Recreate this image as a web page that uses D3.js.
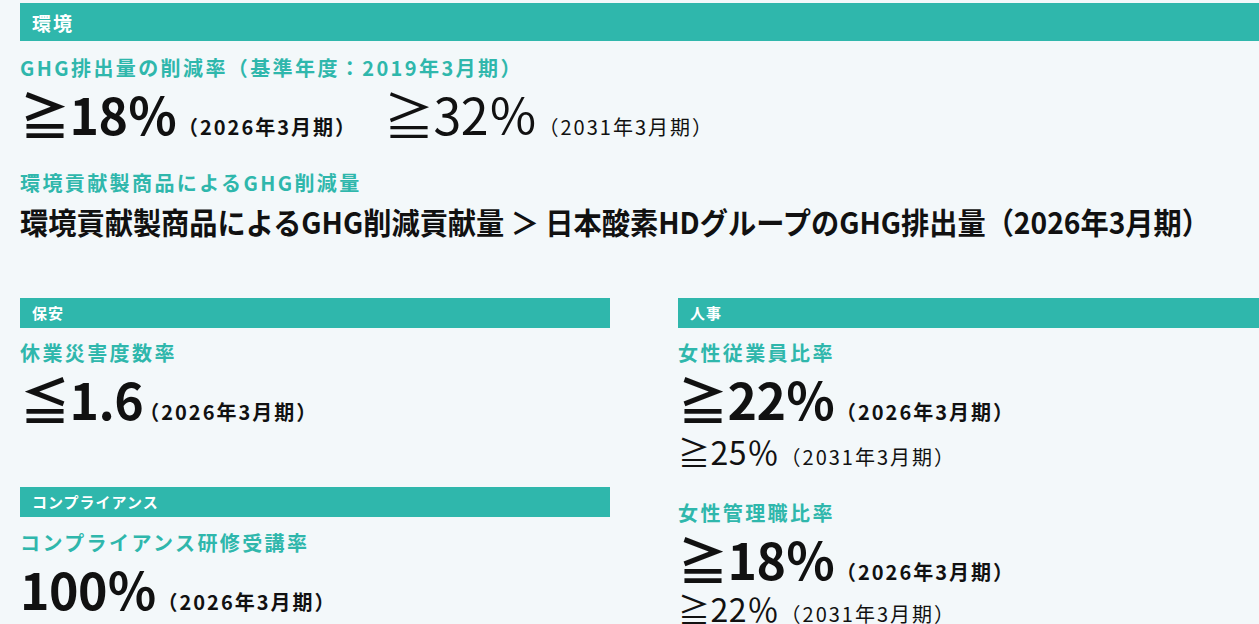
<!DOCTYPE html>
<html>
<head>
<meta charset="utf-8">
<script src="https://cdn.jsdelivr.net/npm/d3@7"></script>
<style>
  html, body { margin: 0; padding: 0; background: #f3f8fa; }
  svg { display: block; font-family: "Noto Sans CJK JP", "Noto Sans", sans-serif; }
</style>
</head>
<body>
<svg id="chart" width="1259" height="624"></svg>
<script>
// ---- data ----
const sectionNames = ["環境", "保安", "人事", "コンプライアンス"];
const metricNames = [
  "GHG排出量の削減率（基準年度：2019年3月期）",
  "環境貢献製商品によるGHG削減量",
  "休業災害度数率",
  "コンプライアンス研修受講率",
  "女性従業員比率",
  "女性管理職比率"
];
// one entry per target figure (empty = no figure, the GHG statement below instead)
const targetSigns   = ["≧", "≧", "", "≦", "", "≧", "≧", "≧", "≧"];
const targetValues  = ["18", "32", "", "1.6", "100", "22", "25", "18", "22"];
const targetUnits   = ["％", "％", "", "", "％", "％", "％", "％", "％"];
const targetPeriods = ["（2026年3月期）", "（2031年3月期）", "", "（2026年3月期）", "（2026年3月期）",
                       "（2026年3月期）", "（2031年3月期）", "（2026年3月期）", "（2031年3月期）"];
const ghgStatement = "環境貢献製商品によるGHG削減貢献量 ＞ 日本酸素HDグループのGHG排出量（2026年3月期）";

// ---- layout ----
const teal = "#2fb7ac";
const svg = d3.select("#chart");

const barLayout = [
  {x: 20,  y: 3,   w: 1239, h: 38, fs: 19, ty: 31, ls: 2},
  {x: 20,  y: 298, w: 590,  h: 30, fs: 15, ty: 319, ls: 1},
  {x: 678, y: 298, w: 581,  h: 30, fs: 15, ty: 319, ls: 1},
  {x: 20,  y: 487, w: 590,  h: 30, fs: 15, ty: 508, ls: 1}
];
const bars = svg.append("g").selectAll("g")
  .data(sectionNames.map((n, i) => ({name: n, ...barLayout[i]})))
  .join("g");
bars.append("rect")
  .attr("x", d => d.x).attr("y", d => d.y)
  .attr("width", d => d.w).attr("height", d => d.h)
  .attr("fill", teal);
bars.append("text")
  .attr("x", d => d.x + 12).attr("y", d => d.ty)
  .attr("font-size", d => d.fs).attr("font-weight", 700)
  .attr("letter-spacing", d => d.ls)
  .attr("fill", "#fff").text(d => d.name);

const metricLayout = [
  {x: 20, y: 76}, {x: 20, y: 191}, {x: 20, y: 361},
  {x: 20, y: 551}, {x: 678, y: 361}, {x: 678, y: 521}
];
svg.append("g").selectAll("text")
  .data(metricNames.map((n, i) => ({name: n, ...metricLayout[i]})))
  .join("text")
  .attr("x", d => d.x).attr("y", d => d.y)
  .attr("font-size", 20).attr("font-weight", 700)
  .attr("letter-spacing", 2.4)
  .attr("fill", teal).text(d => d.name);

// big statement line
svg.append("text")
  .attr("x", 20).attr("y", 234)
  .attr("font-size", 30).attr("font-weight", 700)
  .attr("fill", "#111")
  .attr("textLength", 1190).attr("lengthAdjust", "spacingAndGlyphs")
  .text(ghgStatement);

// target rows
const targetLayout = [
  {x: 20,  y: 135, big: true,  bold: true},
  {x: 384, y: 135, big: true,  bold: false},
  null,
  {x: 20,  y: 420, big: true,  bold: true},
  {x: 20,  y: 610, big: true,  bold: true},
  {x: 678, y: 420, big: true,  bold: true},
  {x: 678, y: 465, big: false, bold: false},
  {x: 678, y: 580, big: true,  bold: true},
  {x: 678, y: 622, big: false, bold: false}
];
const targets = targetValues.map((v, i) => ({
  sign: targetSigns[i], value: v, unit: targetUnits[i], period: targetPeriods[i], ...targetLayout[i]
})).filter(d => d.value !== "");

const tg = svg.append("g").selectAll("text")
  .data(targets)
  .join("text")
  .attr("x", d => d.x).attr("y", d => d.y)
  .attr("fill", "#111");
tg.append("tspan")
  .attr("font-size", d => d.big ? 50 : 32)
  .attr("font-weight", d => d.bold ? 700 : 400)
  .attr("letter-spacing", d => d.big ? -0.5 : 0.5)
  .text(d => d.sign + d.value + d.unit);
tg.append("tspan")
  .attr("dx", d => d.unit ? 1 : -4)
  .attr("font-size", 20)
  .attr("font-weight", d => d.bold ? 700 : 400)
  .attr("letter-spacing", 2)
  .text(d => d.period);
</script>
</body>
</html>
